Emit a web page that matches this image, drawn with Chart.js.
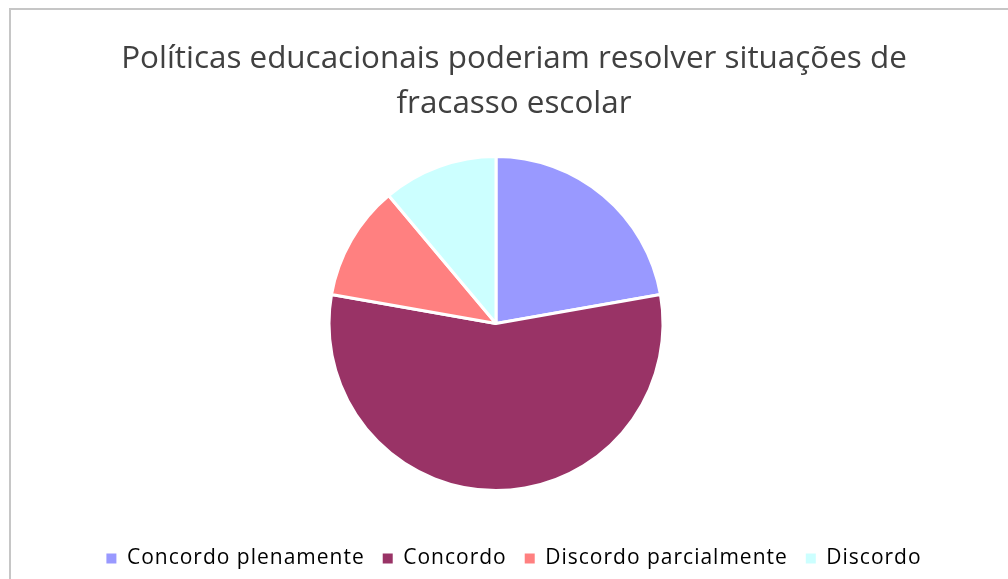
<!DOCTYPE html>
<html>
<head>
<meta charset="utf-8">
<script src="https://cdn.jsdelivr.net/npm/chart.js@4.4.1/dist/chart.umd.min.js"></script>
<style>
  html, body { margin: 0; padding: 0; background: #fff; overflow: hidden; }
  body { width: 1008px; height: 579px; position: relative; }
  #frame { position: absolute; left: 9px; top: 8px; width: 1030px; height: 620px; border: 2px solid #c6c6c6; box-sizing: border-box; }
  #wrap { position: absolute; left: 10px; top: 0; width: 1008px; height: 579px; }
</style>
</head>
<body>
<div id="frame"></div>
<div id="wrap"><canvas id="pieChart"></canvas></div>
<script>
// Políticas educacionais - respostas
const categories = ['Concordo plenamente', 'Concordo', 'Discordo parcialmente', 'Discordo'];
const responses = [2, 5, 1, 1];
const sliceColors = ['#9999FF', '#993366', '#FF8080', '#CCFFFF'];
const titleLines = ['Políticas educacionais poderiam resolver situações de', 'fracasso escolar'];

// empty box on the right so the pie sits a bit left of the title/legend centre
const rightGap = {
    id: 'rightGap',
    start(chart) {
        Chart.layouts.addBox(chart, {
            position: 'right',
            weight: 0,
            fullSize: false,
            options: {},
            width: 0,
            height: 0,
            isHorizontal() { return false; },
            update(maxWidth, maxHeight) { this.width = 36; this.height = maxHeight; },
            draw() {}
        });
    }
};

// letter spacing for the legend only, closer to the original office font
const legendSpacing = {
    id: 'legendSpacing',
    beforeLayout(chart) {
        chart.ctx.letterSpacing = '1px';
        const lg = chart.legend;
        if (lg && !lg._spaced) {
            const origDraw = lg.draw.bind(lg);
            lg.draw = function(area) {
                const c = chart.ctx;
                c.letterSpacing = '1px';
                origDraw(area);
                c.letterSpacing = '0px';
            };
            lg._spaced = true;
        }
    },
    beforeDraw(chart) { chart.ctx.letterSpacing = '0px'; }
};

const defaultLabels = Chart.controllers.pie.overrides.plugins.legend.labels.generateLabels;

const ctx = document.getElementById('pieChart');
const chart = new Chart(ctx.getContext('2d'), {
    type: 'pie',
    data: {
        labels: categories,
        datasets: [{
            data: responses,
            backgroundColor: sliceColors,
            borderColor: '#ffffff',
            borderWidth: 3
        }]
    },
    plugins: [rightGap, legendSpacing],
    options: {
        responsive: true,
        maintainAspectRatio: false,
        animation: false,
        layout: { padding: 0 },
        plugins: {
            title: {
                display: true,
                text: titleLines,
                color: '#404040',
                font: { family: 'Open Sans', size: 31.4, weight: 'normal', lineHeight: 1.433 },
                padding: { top: 37, bottom: 28 }
            },
            legend: {
                position: 'bottom',
                title: {
                    display: true,
                    text: '',
                    font: { size: 10, lineHeight: 1 },
                    padding: { top: 28, bottom: 0 }
                },
                labels: {
                    color: '#000000',
                    boxWidth: 10,
                    boxHeight: 10,
                    padding: 18,
                    font: { family: 'Open Sans', size: 21 },
                    generateLabels: function(chart) {
                        // plain filled squares, without the white slice border
                        return defaultLabels(chart).map(function(item) {
                            item.lineWidth = 0;
                            return item;
                        });
                    }
                }
            },
            tooltip: { enabled: true }
        }
    }
});
</script>
</body>
</html>
